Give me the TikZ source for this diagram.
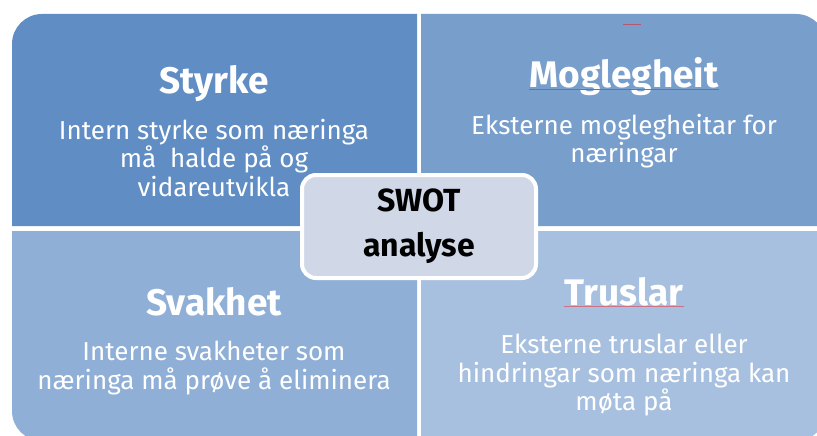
\documentclass[tikz,border=0pt]{standalone}
\usepackage{fontspec}
\setmainfont{Fira Sans}
\usetikzlibrary{positioning}
\definecolor{styrkeblue}{RGB}{95,141,196}
\definecolor{moglegblue}{RGB}{120,159,204}
\definecolor{svakblue}{RGB}{143,175,215}
\definecolor{truslblue}{RGB}{168,192,223}
\definecolor{swotgrey}{RGB}{208,216,232}

\begin{document}
\begin{tikzpicture}[x=1pt,y=-1pt,
    head/.style={text=white,inner sep=0pt,anchor=base,font=\fontsize{37}{40}\selectfont\bfseries},
    body/.style={text=white,inner sep=0pt,anchor=north,align=center,font=\fontsize{26}{28.5}\selectfont},
    swotbox/.style={fill=swotgrey,draw=white,line width=4pt,rounded corners=14pt,
      minimum width=234pt,minimum height=103pt,align=center,inner sep=0pt,
      font=\fontsize{32}{45}\selectfont\bfseries},
    squiggle/.style={line width=0.6pt}]
    \pgfmathsetmacro{\rad}{30}
    \pgfmathsetmacro{\midL}{417}
    \pgfmathsetmacro{\midR}{421}
    \pgfmathsetmacro{\midT}{226}
    \pgfmathsetmacro{\midB}{231}

    \fill[white] (0,0) rectangle (817,436);
    \clip (0,0) rectangle (817,436);

    % the four quadrants, each with one round corner
    \fill[styrkeblue] (12,\midT) [rounded corners=\rad pt] -- (12,14) [sharp corners] -- (\midL,14) -- (\midL,\midT) -- cycle;
    \fill[moglegblue] (\midR,\midT) -- (\midR,14) [rounded corners=\rad pt] -- (826,14) [sharp corners] -- (826,\midT) -- cycle;
    \fill[svakblue] (\midL,\midB) -- (12,\midB) [rounded corners=\rad pt] -- (12,441) [sharp corners] -- (\midL,441) -- cycle;
    \fill[truslblue] (\midR,\midB) -- (826,\midB) [rounded corners=\rad pt] -- (826,441) [sharp corners] -- (\midR,441) -- cycle;

    \node[head] (styrke) at (214,93) {Styrke};
    \node[body] (styrketxt) at (214,119) {Intern styrke som næringa\\må\ \ halde på og\\vidareutvikla};

    \node[head] (mogleg) at (624,88) {Moglegheit};
    \node[body] (moglegtxt) at (624,114) {Eksterne moglegheitar for\\næringar};

    \node[head] (svakhet) at (214,315) {Svakhet};
    \node[body] (svakhettxt) at (214,341) {Interne svakheter som\\næringa må prøve å eliminera};

    \node[head] (truslar) at (624,305) {Truslar};
    \node[body] (truslartxt) at (624,334) {Eksterne truslar eller\\hindringar som næringa kan\\møta på};

    \node[swotbox] (swot) at (419,226.5) {SWOT\\analyse};

    % spell check marks
    \draw[squiggle,red!45!moglegblue] ([yshift=-1pt]mogleg.base west) -- ([yshift=-1pt]mogleg.base east);
    \draw[squiggle,red!40!truslblue] ([yshift=-1pt]truslar.base west) -- ([yshift=-1pt]truslar.base east);
    \draw[squiggle,red!45!moglegblue] (623,24) -- (641,24);
\end{tikzpicture}
\end{document}
